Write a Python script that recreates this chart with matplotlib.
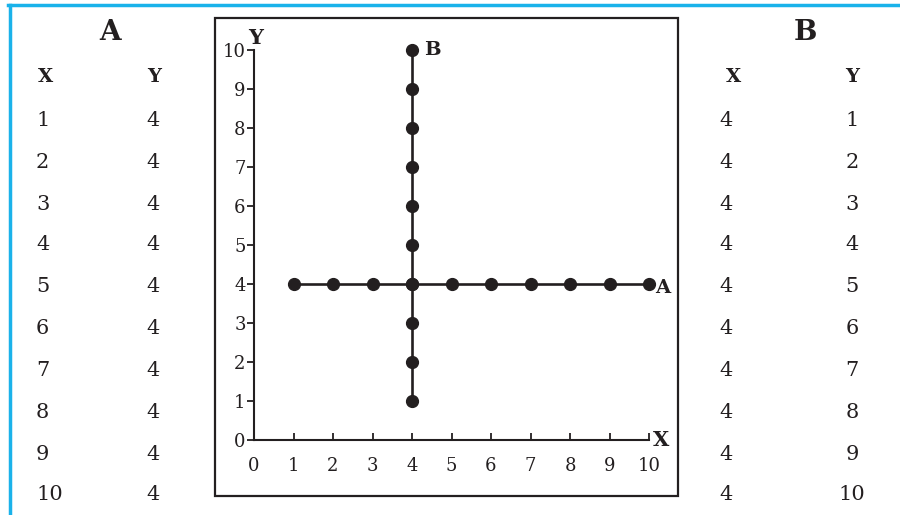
import matplotlib
matplotlib.use("Agg")
import matplotlib.pyplot as plt
from matplotlib.patches import Rectangle
from matplotlib.lines import Line2D

# Data
a_x = [1, 2, 3, 4, 5, 6, 7, 8, 9, 10]
a_y = [4, 4, 4, 4, 4, 4, 4, 4, 4, 4]
b_x = [4, 4, 4, 4, 4, 4, 4, 4, 4, 4]
b_y = [1, 2, 3, 4, 5, 6, 7, 8, 9, 10]
ticks = [0, 1, 2, 3, 4, 5, 6, 7, 8, 9, 10]

W, H = 900, 515
plt.rcParams['font.family'] = ['DejaVu Serif']
fig = plt.figure(figsize=(W / 100, H / 100), dpi=100)

def fx(px):
    return px / W

def fy(py):
    return 1 - py / H

ink = '#231f20'
blue = '#1ab2ea'

# blue frame
fig.add_artist(Line2D([fx(8), fx(900)], [fy(5), fy(5)], color=blue, lw=2.5, transform=fig.transFigure))
fig.add_artist(Line2D([fx(9.5), fx(9.5)], [fy(5), fy(515)], color=blue, lw=2.5, transform=fig.transFigure))

# box around plot
fig.add_artist(Rectangle((fx(215), fy(496)), fx(678) - fx(215), fy(18) - fy(496),
                         fill=False, edgecolor=ink, lw=1.6, transform=fig.transFigure))

# tables
row_y = [120, 162, 204, 245, 287, 329, 370, 412, 454, 495]
fs = 15
fig.text(fx(110), fy(32), 'A', ha='center', va='center', fontsize=20, fontweight='bold', color=ink)
fig.text(fx(45), fy(77), 'X', ha='center', va='center', fontsize=14, fontweight='bold', color=ink)
fig.text(fx(154), fy(77), 'Y', ha='center', va='center', fontsize=14, fontweight='bold', color=ink)
for yy, xv, yv in zip(row_y, a_x, a_y):
    fig.text(fx(36), fy(yy), str(xv), ha='left', va='center', fontsize=fs, color=ink)
    fig.text(fx(146), fy(yy), str(yv), ha='left', va='center', fontsize=fs, color=ink)

fig.text(fx(805), fy(32), 'B', ha='center', va='center', fontsize=20, fontweight='bold', color=ink)
fig.text(fx(733), fy(77), 'X', ha='center', va='center', fontsize=14, fontweight='bold', color=ink)
fig.text(fx(852), fy(77), 'Y', ha='center', va='center', fontsize=14, fontweight='bold', color=ink)
for yy, xv, yv in zip(row_y, b_x, b_y):
    fig.text(fx(719), fy(yy), str(xv), ha='left', va='center', fontsize=fs, color=ink)
    fig.text(fx(852), fy(yy), str(yv), ha='center', va='center', fontsize=fs, color=ink)

# plot axes
ax = fig.add_axes([fx(254), fy(440), fx(649) - fx(254), fy(50) - fy(440)])
ax.set_xlim(0, 10)
ax.set_ylim(0, 10)
ax.set_facecolor('none')
for s in ['top', 'right']:
    ax.spines[s].set_visible(False)
for s in ['left', 'bottom']:
    ax.spines[s].set_color(ink)
    ax.spines[s].set_linewidth(1.5)
ax.set_xticks(ticks)
ax.set_yticks(ticks)
ax.set_xticklabels([str(t) for t in ticks])
ax.set_yticklabels([str(t) for t in ticks])
ax.tick_params(axis='x', direction='in', length=5, width=1.3, colors=ink, labelsize=13, pad=12)
ax.tick_params(axis='y', direction='out', length=5, width=1.3, colors=ink, labelsize=13, pad=1)

ax.plot(a_x, a_y, '-o', color=ink, lw=1.9, markersize=8.5, clip_on=False, zorder=3)
ax.plot(b_x, b_y, '-o', color=ink, lw=1.9, markersize=8.5, clip_on=False, zorder=3)

ax.text(4.3, 10, 'B', ha='left', va='center', fontsize=14, fontweight='bold', color=ink)
ax.text(10.15, 3.9, 'A', ha='left', va='center', fontsize=14, fontweight='bold', color=ink)
ax.text(0.05, 10.3, 'Y', ha='center', va='center', fontsize=15, fontweight='bold', color=ink)
ax.text(10.1, 0.0, 'X', ha='left', va='center', fontsize=15, fontweight='bold', color=ink)

fig.savefig('out.png', dpi=100)
